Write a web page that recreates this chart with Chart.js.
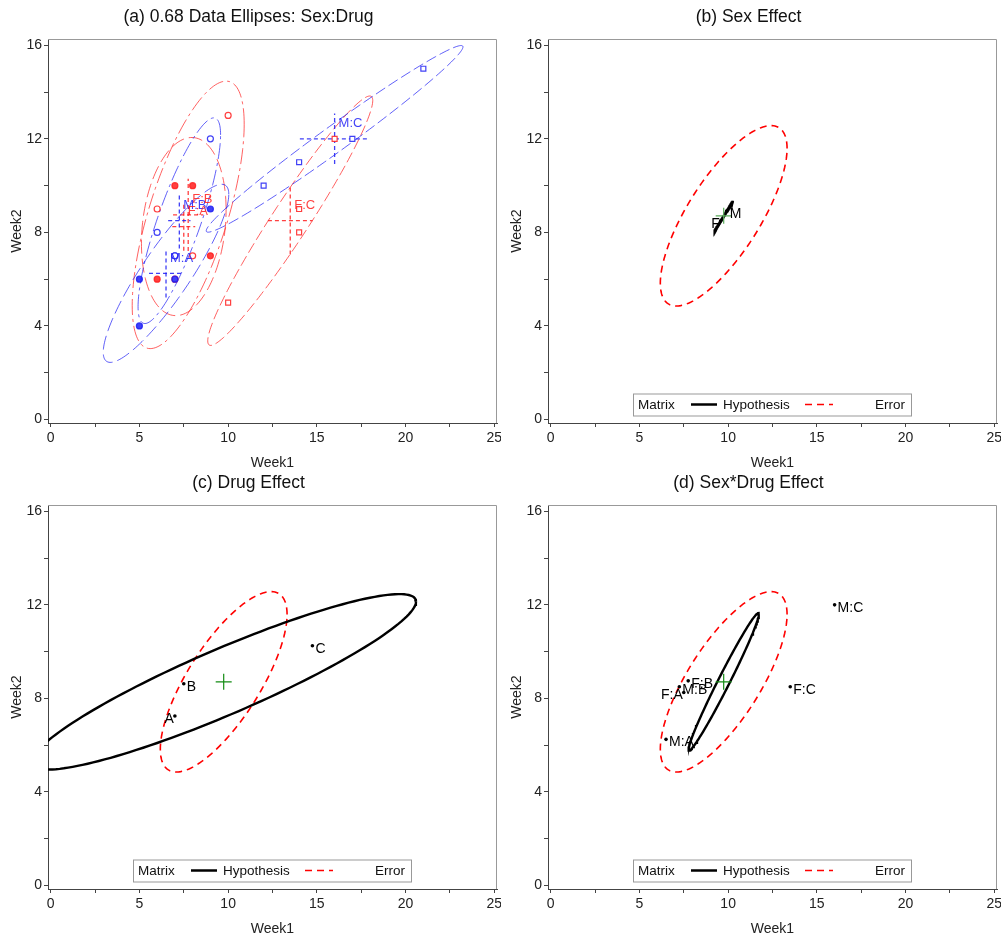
<!DOCTYPE html>
<html>
<head>
<meta charset="utf-8">
<script src="https://cdn.jsdelivr.net/npm/chart.js@4.4.0/dist/chart.umd.min.js"></script>
<style>
  body { margin: 0; background: #fff; overflow: hidden; }
  #wrap { position: relative; width: 1002px; height: 936px; }
  .cell { position: absolute; width: 501px; height: 468px; }
</style>
</head>
<body>
<div id="wrap">
  <div class="cell" style="left:0;top:0"><canvas id="chartA"></canvas></div>
  <div class="cell" style="left:500px;top:0"><canvas id="chartB"></canvas></div>
  <div class="cell" style="left:0;top:466px"><canvas id="chartC"></canvas></div>
  <div class="cell" style="left:500px;top:466px"><canvas id="chartD"></canvas></div>
</div>
<script>
// raw observations (4 per cell)
const sex   = ['M','M','M','M','M','M','M','M','M','M','M','M','F','F','F','F','F','F','F','F','F','F','F','F'];
const drug  = ['A','A','A','A','B','B','B','B','C','C','C','C','A','A','A','A','B','B','B','B','C','C','C','C'];
const week1 = [5,5,9,7, 7,7,9,6, 21,14,17,12, 7,6,9,8, 7,6,10,8, 16,14,14,10];
const week2 = [6,4,9,6, 7,7,12,8, 15,11,12,10, 10,6,7,10, 6,9,13,7, 12,9,8,5];

const sexLevels  = ['M','F'];
const drugLevels = ['A','B','C'];
const xTickVals = [0,2.5,5,7.5,10,12.5,15,17.5,20,22.5,25];
const yTickVals = [0,2,4,6,8,10,12,14,16];

const level = 0.68;
const hypRadius = { sex: 2.7, drug: 2.65, inter: 2.22 };  // H ellipse size

const sexColor = { M: 'rgba(30,30,245,0.85)', F: 'rgba(255,30,30,0.85)' };
const drugStyle = { A: 'circle', B: 'circle', C: 'rect' };
const drugDash = { A: [14,5], B: [16,4,3,4], C: [11,4] };

Chart.defaults.font.family = '"Liberation Sans", Arial, sans-serif';
Chart.defaults.color = '#222';

// ---- stats ----
function stats(idx) {
  const n = idx.length;
  let mx = 0, my = 0;
  idx.forEach(i => { mx += week1[i]; my += week2[i]; });
  mx /= n; my /= n;
  let sxx = 0, sxy = 0, syy = 0;
  idx.forEach(i => {
    const dx = week1[i] - mx, dy = week2[i] - my;
    sxx += dx*dx; sxy += dx*dy; syy += dy*dy;
  });
  return { n, mean: [mx, my], sscp: [sxx, sxy, syy] };
}
const allIdx = week1.map((_, i) => i);
const grand = stats(allIdx);
const cells = [];
sexLevels.forEach(s => drugLevels.forEach(d => {
  const idx = allIdx.filter(i => sex[i] === s && drug[i] === d);
  cells.push(Object.assign({ sex: s, drug: d, idx }, stats(idx)));
}));
const sexStats  = sexLevels.map(s => Object.assign({ name: s }, stats(allIdx.filter(i => sex[i] === s))));
const drugStats = drugLevels.map(d => Object.assign({ name: d }, stats(allIdx.filter(i => drug[i] === d))));

const dfe = week1.length - cells.length;
const E = [0,0,0];
cells.forEach(c => { for (let k = 0; k < 3; k++) E[k] += c.sscp[k]; });

function hyp(groups, devFn) {
  const H = [0,0,0];
  groups.forEach(g => {
    const d = devFn(g);
    H[0] += g.n*d[0]*d[0]; H[1] += g.n*d[0]*d[1]; H[2] += g.n*d[1]*d[1];
  });
  return H;
}
const g = grand.mean;
const Hsex  = hyp(sexStats,  s => [s.mean[0]-g[0], s.mean[1]-g[1]]);
const Hdrug = hyp(drugStats, s => [s.mean[0]-g[0], s.mean[1]-g[1]]);
const Hint  = hyp(cells, c => {
  const sm = sexStats[sexLevels.indexOf(c.sex)].mean;
  const dm = drugStats[drugLevels.indexOf(c.drug)].mean;
  return [c.mean[0]-sm[0]-dm[0]+g[0], c.mean[1]-sm[1]-dm[1]+g[1]];
});
const scaleM = (S, k) => S.map(v => v / k);

// radius from F(2, df) quantile
function fRadius(p, df) { return Math.sqrt(df * (Math.pow(1 - p, -2/df) - 1)); }

function ellipsePts(m, S, c) {
  const a = Math.sqrt(S[0]);
  const b = a > 0 ? S[1]/a : 0;
  const d = Math.sqrt(Math.max(0, S[2] - b*b));
  const pts = [];
  for (let k = 0; k <= 160; k++) {
    const t = 2*Math.PI*k/160, u = Math.cos(t), v = Math.sin(t);
    pts.push({ x: m[0] + c*a*u, y: m[1] + c*(b*u + d*v) });
  }
  return pts;
}

// ---- plugins ----
const framePlugin = {
  id: 'frame',
  beforeDatasetsDraw(chart) {
    const a = chart.chartArea, ctx = chart.ctx;
    ctx.save();
    ctx.strokeStyle = '#999'; ctx.lineWidth = 1;
    ctx.beginPath();
    ctx.moveTo(a.left, a.top + 0.5); ctx.lineTo(a.right - 0.5, a.top + 0.5); ctx.lineTo(a.right - 0.5, a.bottom);
    ctx.stroke();
    ctx.restore();
  }
};

const labelPlugin = {
  id: 'ptLabels',
  afterDatasetsDraw(chart, args, opts) {
    if (!opts.items) return;
    const ctx = chart.ctx, xs = chart.scales.x, ys = chart.scales.y;
    ctx.save();
    ctx.font = opts.font;
    ctx.textBaseline = 'middle';
    opts.items.forEach(it => {
      ctx.fillStyle = it.color || '#000';
      ctx.textAlign = it.align;
      ctx.fillText(it.text, xs.getPixelForValue(it.x) + it.dx, ys.getPixelForValue(it.y) + it.dy);
    });
    ctx.restore();
  }
};

const heLegendPlugin = {
  id: 'heLegend',
  afterDraw(chart, args, opts) {
    if (!opts.show) return;
    const a = chart.chartArea, ctx = chart.ctx;
    const x0 = a.left + 85, y0 = a.bottom - 29.5, w = 278, h = 22;
    const cy = y0 + h/2;
    ctx.save();
    ctx.strokeStyle = '#999'; ctx.lineWidth = 1;
    ctx.strokeRect(x0 + 0.5, y0 + 0.5, w, h);
    ctx.font = '13.5px "Liberation Sans", Arial, sans-serif';
    ctx.fillStyle = '#111'; ctx.textBaseline = 'middle'; ctx.textAlign = 'left';
    ctx.fillText('Matrix', x0 + 5, cy + 1);
    ctx.fillText('Hypothesis', x0 + 90, cy + 1);
    ctx.fillText('Error', x0 + 242, cy + 1);
    ctx.strokeStyle = '#000'; ctx.lineWidth = 2.5;
    ctx.beginPath(); ctx.moveTo(x0 + 58, cy); ctx.lineTo(x0 + 84, cy); ctx.stroke();
    ctx.strokeStyle = '#f00'; ctx.lineWidth = 1.5; ctx.setLineDash([7,5]);
    ctx.beginPath(); ctx.moveTo(x0 + 172, cy); ctx.lineTo(x0 + 200, cy); ctx.stroke();
    ctx.restore();
  }
};

function axes() {
  const tickFont = { size: 14 };
  return {
    x: {
      type: 'linear', min: -0.15, max: 25.15,
      afterBuildTicks: s => { s.ticks = xTickVals.map(v => ({ value: v })); },
      afterFit: s => { s.height = 45; s.paddingLeft = 0; s.paddingRight = 0; },
      ticks: { callback: v => (v % 5 === 0 ? v : ''), font: tickFont, color: '#222', padding: 3, autoSkip: false, maxRotation: 0 },
      grid: { drawOnChartArea: false, tickLength: 4, color: '#444' },
      border: { color: '#444' },
      title: { display: true, text: 'Week1', font: { size: 14, lineHeight: 0.7 }, color: '#222', padding: { top: 0, bottom: 0 } }
    },
    y: {
      type: 'linear', min: -0.15, max: 16.27,
      afterBuildTicks: s => { s.ticks = yTickVals.map(v => ({ value: v })); },
      afterFit: s => { s.width = 48; s.paddingTop = 0; s.paddingBottom = 0; },
      ticks: { callback: v => (v % 4 === 0 ? v : ''), font: tickFont, color: '#222', padding: 2, autoSkip: false },
      grid: { drawOnChartArea: false, tickLength: 4, color: '#444' },
      border: { color: '#444' },
      title: { display: true, text: 'Week2', font: { size: 14 }, color: '#222', padding: { top: 9, bottom: 0 } }
    }
  };
}

function makeChart(id, title, datasets, labelItems, labelFont, legend) {
  return new Chart(document.getElementById(id), {
    type: 'scatter',
    data: { datasets },
    options: {
      responsive: true, maintainAspectRatio: false, animation: false,
      layout: { autoPadding: false, padding: { left: 0, right: 4, top: 0, bottom: 0 } },
      scales: axes(),
      plugins: {
        legend: { display: false },
        tooltip: { enabled: false },
        title: { display: true, text: title, font: { size: 17.5, weight: 'normal' }, color: '#111', padding: { top: 7, bottom: 11 } },
        ptLabels: { items: labelItems, font: labelFont },
        heLegend: { show: legend }
      }
    },
    plugins: [framePlugin, labelPlugin, heLegendPlugin]
  });
}

const lineDs = (pts, color, width, dash) => ({
  data: pts, showLine: true, pointRadius: 0, borderColor: color, borderWidth: width,
  borderDash: dash || [], fill: false, tension: 0
});

// ---- (a) data ellipses ----
const dsA = [];
const labelsA = [];
const cData = fRadius(level, 3);
cells.forEach(c => {
  const col = sexColor[c.sex];
  dsA.push({
    data: c.idx.map(i => ({ x: week1[i], y: week2[i] })),
    pointStyle: drugStyle[c.drug],
    pointRadius: c.drug === 'C' ? 3.5 : 3,
    pointBackgroundColor: c.drug === 'A' ? col : '#fff',
    pointBorderColor: col, pointBorderWidth: 1.2, showLine: false
  });
});
cells.forEach(c => {
  const col = sexColor[c.sex];
  const cov = scaleM(c.sscp, c.n - 1);
  dsA.push(lineDs(ellipsePts(c.mean, cov, cData), col.replace('0.85', '0.7'), 1, drugDash[c.drug]));
  const sx = Math.sqrt(cov[0] / c.n), sy = Math.sqrt(cov[2] / c.n);
  dsA.push(lineDs([{ x: c.mean[0]-sx, y: c.mean[1] }, { x: c.mean[0]+sx, y: c.mean[1] }], col, 1.3, [4,3]));
  dsA.push(lineDs([{ x: c.mean[0], y: c.mean[1]-sy }, { x: c.mean[0], y: c.mean[1]+sy }], col, 1.3, [4,3]));
  labelsA.push({ x: c.mean[0], y: c.mean[1], text: c.sex + ':' + c.drug, color: col, align: 'left', dx: 4, dy: -15 });
});
makeChart('chartA', '(a) 0.68 Data Ellipses: Sex:Drug', dsA, labelsA, '13px "Liberation Sans", Arial, sans-serif', false);

// ---- HE plots ----
const cErr = fRadius(level, dfe);
const Eell = ellipsePts(g, scaleM(E, dfe), cErr);

function heDatasets(H, c, groups, crossColor) {
  return [
    { data: [{ x: g[0], y: g[1] }], pointStyle: 'cross', pointRadius: 8, pointBorderColor: crossColor, pointBorderWidth: 1.2, showLine: false },
    { data: groups.map(s => ({ x: s.mean[0], y: s.mean[1] })), pointRadius: 1.8, pointBackgroundColor: '#000', pointBorderColor: '#000', pointBorderWidth: 0, showLine: false },
    lineDs(ellipsePts(g, scaleM(H, dfe), c), '#000', 2.4),
    lineDs(Eell, '#f00', 1.6, [7,5])
  ];
}
const heFont = '14px "Liberation Sans", Arial, sans-serif';
const leftLabels = ['F', 'A', 'F:A'];
const heLabels = (groups, nameFn) => groups.map(s => {
  const t = nameFn(s);
  const left = leftLabels.includes(t);
  return { x: s.mean[0], y: s.mean[1], text: t, align: left ? 'right' : 'left', dx: left ? -1 : 3, dy: 3, color: '#000' };
});

makeChart('chartB', '(b) Sex Effect', heDatasets(Hsex, hypRadius.sex, sexStats, 'rgb(90,170,90)'), heLabels(sexStats, s => s.name), heFont, true);
makeChart('chartC', '(c) Drug Effect', heDatasets(Hdrug, hypRadius.drug, drugStats, 'rgb(20,140,20)'), heLabels(drugStats, s => s.name), heFont, true);
makeChart('chartD', '(d) Sex*Drug Effect', heDatasets(Hint, hypRadius.inter, cells, 'rgb(20,140,20)'), heLabels(cells, s => s.sex + ':' + s.drug), heFont, true);
</script>
</body>
</html>
